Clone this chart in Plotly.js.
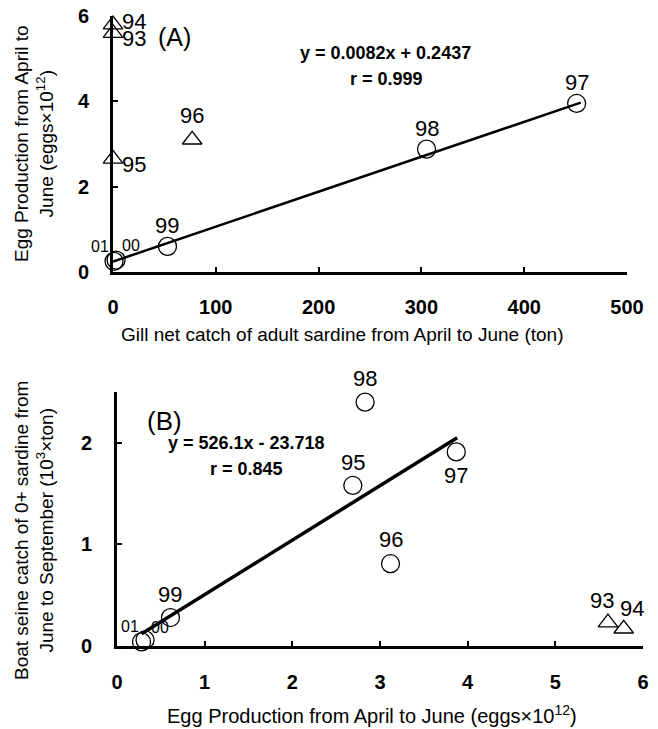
<!DOCTYPE html>
<html><head><meta charset="utf-8">
<script src="https://cdn.plot.ly/plotly-3.0.1.min.js"></script>
<style>html,body{margin:0;padding:0;background:#fff}#chart{width:658px;height:729px}</style>
</head><body><div id="chart"></div>
<script>
// Panel A: gill net catch (ton) vs egg production (eggs x10^12)
const aCircYears = ['01', '00', '99', '98', '97'];
const aCircX = [1, 3, 53, 305, 451];
const aCircY = [0.25, 0.28, 0.6, 2.88, 3.95];
const aTriYears = ['94', '93', '95', '96'];
const aTriX = [0, 0, 0, 77];
const aTriY = [5.8, 5.6, 2.65, 3.1];
const aFitX = [0, 455];
const aFitY = [0.2437, 3.97];
const aEq = ['y = 0.0082x + 0.2437', 'r = 0.999'];
const aXTicks = [0, 100, 200, 300, 400, 500];
const aYTicks = [0, 2, 4, 6];

// Panel B: egg production vs boat seine catch (10^3 ton)
const bCircYears = ['01', '00', '99', '95', '98', '96', '97'];
const bCircX = [0.28, 0.32, 0.61, 2.69, 2.83, 3.12, 3.87];
const bCircY = [0.04, 0.06, 0.28, 1.58, 2.4, 0.81, 1.91];
const bTriYears = ['93', '94'];
const bTriX = [5.6, 5.78];
const bTriY = [0.23, 0.17];
const bFitX = [0.28, 3.88];
const bFitY = [0.12, 2.05];
const bEq = ['y = 526.1x - 23.718', 'r = 0.845'];
const bXTicks = [0, 1, 2, 3, 4, 5, 6];
const bYTicks = [0, 1, 2];

const W = 658, H = 729;
const FONT = 'Liberation Sans, Arial, sans-serif';
const px = v => v / W, py = v => 1 - v / H;

const circ = {symbol: 'circle-open', size: 18, color: '#000', line: {width: 1.3, color: '#000'}};
const tri = {symbol: 'triangle-up-open', size: 17, color: '#000', line: {width: 1.3, color: '#000'}};

const traces = [
  {x: aFitX, y: aFitY, xaxis: 'x', yaxis: 'y', mode: 'lines', line: {color: '#000', width: 2.5}, cliponaxis: false},
  {x: aCircX, y: aCircY, xaxis: 'x', yaxis: 'y', mode: 'markers', marker: circ, cliponaxis: false},
  {x: aTriX, y: aTriY, xaxis: 'x', yaxis: 'y', mode: 'markers', marker: tri, cliponaxis: false},
  {x: bFitX, y: bFitY, xaxis: 'x2', yaxis: 'y2', mode: 'lines', line: {color: '#000', width: 3.5}, cliponaxis: false},
  {x: bCircX, y: bCircY, xaxis: 'x2', yaxis: 'y2', mode: 'markers', marker: circ, cliponaxis: false},
  {x: bTriX, y: bTriY, xaxis: 'x2', yaxis: 'y2', mode: 'markers', marker: tri, cliponaxis: false}
];

const axBase = {
  showline: true, linewidth: 3, linecolor: '#000', ticks: 'inside', ticklen: 5, tickwidth: 2,
  tickcolor: '#000', showgrid: false, zeroline: false, fixedrange: true,
  tickfont: {family: FONT, size: 20, color: '#000', weight: 'bold'}
};

const ann = [];
const LBL = 22;
// point labels panel A: [dx, dy, size]
const aCircOff = [[-14, 15, 16], [15, 15, 16], [0, 21, LBL], [0, 21, LBL], [0, 21, LBL]];
aCircYears.forEach((t, i) => ann.push({xref: 'x', yref: 'y', x: aCircX[i], y: aCircY[i], text: t, showarrow: false,
  xshift: aCircOff[i][0], yshift: aCircOff[i][1], font: {family: FONT, size: aCircOff[i][2], color: '#000'}}));
const aTriOff = [[21, 3], [21, -5], [21, -6], [0, 24]];
aTriYears.forEach((t, i) => ann.push({xref: 'x', yref: 'y', x: aTriX[i], y: aTriY[i], text: t, showarrow: false,
  xshift: aTriOff[i][0], yshift: aTriOff[i][1], font: {family: FONT, size: LBL, color: '#000'}}));
const bCircOff = [[-12, 15, 16], [15, 12, 16], [0, 23, LBL], [0, 23, LBL], [0, 24, LBL], [0, 24, LBL], [0, -24, LBL]];
bCircYears.forEach((t, i) => ann.push({xref: 'x2', yref: 'y2', x: bCircX[i], y: bCircY[i], text: t, showarrow: false,
  xshift: bCircOff[i][0], yshift: bCircOff[i][1], font: {family: FONT, size: bCircOff[i][2], color: '#000'}}));
const bTriOff = [[-6, 22], [8, 20]];
bTriYears.forEach((t, i) => ann.push({xref: 'x2', yref: 'y2', x: bTriX[i], y: bTriY[i], text: t, showarrow: false,
  xshift: bTriOff[i][0], yshift: bTriOff[i][1], font: {family: FONT, size: LBL, color: '#000'}}));

const txt = (x, y, text, size, bold, angle) => ann.push({xref: 'paper', yref: 'paper', x: px(x), y: py(y),
  xanchor: 'center', yanchor: 'middle', text: text, showarrow: false, textangle: angle || 0,
  font: {family: FONT, size: size, color: '#000', weight: bold ? 'bold' : 'normal'}});

txt(174, 37, '(A)', 25, false);
txt(385, 53, aEq[0], 18, true);
txt(386, 79, aEq[1], 18, true);
txt(342, 334, 'Gill net catch of adult sardine from April to June (ton)', 19, false);
txt(34, 144, 'Egg Production from April to<br>June (eggs×10<sup>12</sup>)', 19, false, -90);

txt(164, 421, '(B)', 26, false);
txt(246, 443, bEq[0], 18, true);
txt(246, 469, bEq[1], 18, true);
txt(372, 714, 'Egg Production from April to June (eggs×10<sup>12</sup>)', 20, false);
txt(34, 531, 'Boat seine catch of 0+ sardine from<br>June to September (10<sup>3</sup>×ton)', 19, false, -90);

const layout = {
  width: W, height: H, margin: {l: 0, r: 0, t: 0, b: 0}, showlegend: false,
  paper_bgcolor: '#fff', plot_bgcolor: '#fff',
  xaxis: Object.assign({}, axBase, {domain: [px(113), px(627)], range: [0, 500], tickvals: aXTicks, anchor: 'y', ticklabelstandoff: 15}),
  yaxis: Object.assign({}, axBase, {domain: [py(272), py(16)], range: [0, 6], tickvals: aYTicks, anchor: 'x', ticklabelstandoff: 17}),
  xaxis2: Object.assign({}, axBase, {domain: [px(117), px(643)], range: [0, 6], tickvals: bXTicks, anchor: 'y2', ticklabelstandoff: 16}),
  yaxis2: Object.assign({}, axBase, {domain: [py(646), py(392)], range: [0, 2.5], tickvals: bYTicks, anchor: 'x2', ticklabelstandoff: 18}),
  annotations: ann
};

Plotly.newPlot('chart', traces, layout, {staticPlot: true, displayModeBar: false});
</script></body></html>
